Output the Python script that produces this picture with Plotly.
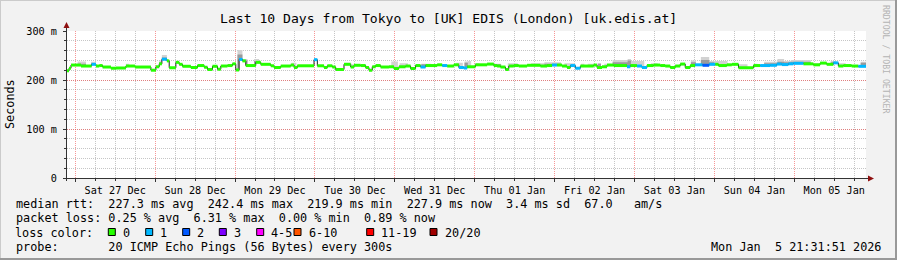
import pandas as pd
import plotly.graph_objects as go

# ---------------- data ----------------
START = pd.Timestamp("2025-12-26 21:31:51")
SPAN_H = 240  # 10 days

# median rtt steps: start hour (from START), value in ms, lost pings (of 20)
seg_h = [0.0, 0.6, 1.2, 4.2, 7.4, 8.7, 9.7, 10.7, 13.2, 14.7, 17.7, 20.4, 25.2, 26.7, 27.7, 28.5,
         30.0, 30.7, 32.7, 33.7, 34.7, 37.2, 39.2, 41.2, 42.2, 43.7, 45.2, 46.2, 48.2, 49.7, 50.7,
         51.7, 52.7, 53.7, 56.7, 58.2, 61.2, 62.2, 64.2, 67.2, 68.2, 69.2, 74.2, 75.2, 77.2, 78.2,
         79.7, 80.7, 83.2, 85.2, 86.2,
         88.2, 89.7, 90.7, 91.7, 92.7, 94.2, 96.7, 98.2, 99.7, 101.7, 103.2, 104.7, 106.2, 107.7,
         111.2, 112.7, 114.2, 116.2, 117.7, 119.2, 120.2, 122.7, 126.2, 128.2, 129.2, 130.2, 131.7,
         132.7, 134.2, 135.7, 138.2, 142.2, 144.2, 145.7, 147.2, 148.7, 150.2, 151.2, 152.7, 154.2,
         156.2, 158.2, 159.2, 160.7, 162.2, 164.2, 168.2, 169.2, 171.2, 172.7, 174.2, 176.2,
         178.2, 179.7, 181.2, 182.7, 184.2, 185.7, 187.2, 188.7, 190.9, 192.9, 194.7, 195.7, 198.2,
         199.7, 201.7, 206.2, 208.2, 211.2, 213.2, 214.7, 216.7, 218.2, 221.2, 224.2, 226.2, 228.2,
         230.2, 231.7, 233.2, 235.7, 237.7]
seg_ms = [219, 224, 230.5, 228.5, 232, 228.5, 229.5, 226.5, 224, 224.5, 228.5, 226.5, 220, 227, 233, 242.4,
          239, 225, 236, 232, 228, 225.5, 229.5, 226, 221.5, 228, 222, 228.5, 229.5, 233, 220.5,
          242, 239, 229.5, 236, 232, 229, 225.5, 228.5, 230.5, 225.5, 229, 241.5, 229, 225.5, 229,
          226.5, 221.5, 232, 226.5, 230,
          229.5, 225.5, 219.9, 227, 229.5, 226.5, 227, 223.5, 227, 228.5, 223.5, 229.5, 226.5, 229.5,
          231, 229.5, 228.5, 231, 225.5, 224.5, 227, 231, 232.5, 229.5, 228.5, 226.5, 221.5,
          228.5, 229.5, 228.5, 230, 228.5, 229.5, 230.5, 230.5, 228.5, 225.5, 229.5, 224, 228.5,
          228.5, 230.5, 225.5, 227, 230.5, 229.5, 227, 229.5, 228.5, 225.5, 229.5, 230.5,
          229.5, 228.5, 225.5, 228.5, 232.5, 225.5, 229.5, 231, 230, 232, 232, 229.5, 231,
          232, 225, 229.5, 229.5, 230, 232.5, 231.5, 233, 234, 233, 231, 234.5, 232,
          235, 228.5, 229.5, 228.5, 227.9]
seg_loss = [0, 0, 0, 0, 1, 0, 0, 0, 0, 0, 0, 0, 0, 0, 0, 1,
            0, 0, 0, 0, 0, 0, 0, 0, 0, 0, 0, 0, 0, 0, 0,
            1, 0, 0, 0, 0, 0, 0, 0, 0, 0, 0, 1, 0, 0, 0,
            0, 0, 0, 0, 0,
            0, 0, 0, 0, 0, 0, 0, 0, 0, 0, 0, 0, 1, 0,
            0, 1, 0, 0, 1, 1, 0, 0, 0, 0, 0, 0, 0,
            0, 0, 0, 0, 0, 0, 1, 0, 0, 0, 1, 1, 0,
            0, 0, 0, 0, 0, 0, 1, 0, 1, 1, 0, 0,
            0, 0, 0, 0, 0, 0, 0, 1, 2, 1, 0, 0, 0,
            0, 0, 0, 1, 1, 1, 1, 1, 1, 0, 0, 0, 0,
            1, 0, 0, 0, 1]

# smoke (ping spread): start hour, end hour, max ping ms, inner-band ms (0 = none)
smoke_h0 = [3.2, 7.2, 17.7, 27.7, 28.5, 39.7, 51.2, 52.7, 56.2, 67.4, 70.2, 83.4, 85.4, 97.4,
            99.9, 106.4, 107.9, 116.9, 119.4, 120.4, 122.4, 128.4, 132.4, 139.4, 143.4, 149.4,
            154.4, 156.4, 159.4, 161.4, 163.9, 168.4, 169.4, 175.4, 187.4, 190.4, 192.9, 194.4,
            201.4, 206.4, 209.4, 213.4, 215.4, 217.4, 224.4, 229.4, 231.4, 238.4]
smoke_h1 = [5.7, 8.7, 18.7, 28.5, 30.0, 41.2, 52.7, 54.2, 57.7, 68.9, 71.7, 85.4, 89.4, 99.4,
            102.4, 107.9, 109.4, 118.9, 120.4, 121.4, 123.9, 130.4, 135.4, 143.4, 148.4, 152.4,
            155.4, 158.4, 160.4, 163.4, 168.4, 169.4, 173.4, 177.4, 188.9, 192.9, 194.4, 198.4,
            204.4, 207.4, 213.4, 215.4, 217.4, 223.4, 225.9, 230.9, 233.9, 240.0]
smoke_top = [238, 237, 233, 240, 251, 230, 261, 243, 243, 235, 230, 235, 232, 238,
             234, 233, 233, 235, 238, 239, 234, 233, 234, 234, 236, 234,
             233, 233, 234, 233, 241, 243, 239, 234, 240, 247, 239, 239,
             232, 233, 237, 243, 239, 241, 234, 239, 234, 237]
smoke_core = [233, 234, 0, 236, 246, 0, 252, 240, 239, 0, 0, 0, 0, 0,
              0, 232, 0, 0, 235, 0, 0, 232, 0, 0, 233, 0,
              0, 0, 233, 0, 236, 240, 0, 0, 236, 241, 236, 0,
              0, 0, 234, 237, 236, 237, 0, 236, 0, 235]

loss_labels = ["0", "1", "2", "3", "4-5", "6-10", "11-19", "20/20"]
loss_colors = ["#26ff00", "#00b8ff", "#0059ff", "#7e00ff", "#ff00ff", "#ff5500", "#ff0000", "#a10000"]

y_tickvals = [0, 100, 200, 300]
y_ticktext = ["0", "100 m", "200 m", "300 m"]

title_text = "Last 10 Days from Tokyo to [UK] EDIS (London) [uk.edis.at]"
stat_rtt = "median rtt:  227.3 ms avg  242.4 ms max  219.9 ms min  227.9 ms now  3.4 ms sd  67.0   am/s"
stat_loss = "packet loss: 0.25 % avg  6.31 % max  0.00 % min  0.89 % now"
probe_text = "probe:       20 ICMP Echo Pings (56 Bytes) every 300s"
stamp_text = "Mon Jan  5 21:31:51 2026"

# ---------------- layout geometry (pixels) ----------------
W, H = 897, 260
PL, PR, PT, PB = 67, 866, 31, 178
FONT = "DejaVu Sans Mono"


def px(xp):
    return (xp - PL) / (PR - PL)


def py(yp):
    return (PB - yp) / (PB - PT)


def t(h):
    return START + pd.Timedelta(hours=h)


def nb(s):
    return s.replace(" ", "\u00a0")


END = t(SPAN_H)
seg_end = seg_h[1:] + [SPAN_H]

fig = go.Figure()

# smoke
for tops, color in ((smoke_top, "#d2d2d2"), (smoke_core, "#9a9a9a")):
    xs, ys = [], []
    for a, b, top in zip(smoke_h0, smoke_h1, tops):
        if not top:
            continue
        for s, e, m in zip(seg_h, seg_end, seg_ms):
            lo, hi = max(s, a), min(e, b)
            if hi <= lo or top <= m:
                continue
            xs += [t(lo), t(hi), t(hi), t(lo), t(lo), None]
            ys += [m, m, top, top, m, None]
    fig.add_trace(go.Scatter(x=xs, y=ys, mode="lines", fill="toself", fillcolor=color,
                             line=dict(width=0), hoverinfo="skip"))

# black median step line
fig.add_trace(go.Scatter(x=[t(h) for h in seg_h] + [END], y=seg_ms + [seg_ms[-1]],
                         mode="lines", line=dict(color="#202020", width=1, shape="hv"),
                         hoverinfo="skip"))

# loss coloured median band
for lvl, color in enumerate(loss_colors[:4]):
    xs, ys = [], []
    for s, e, m, l in zip(seg_h, seg_end, seg_ms, seg_loss):
        if l != lvl:
            continue
        xs += [t(s), t(e), None]
        ys += [m, m, None]
    if xs:
        fig.add_trace(go.Scatter(x=xs, y=ys, mode="lines",
                                 line=dict(color=color, width=3), hoverinfo="skip"))

shapes = []
# 3D border
shapes.append(dict(type="line", xref="paper", yref="paper", x0=px(0.5), x1=px(0.5), y0=py(0), y1=py(H),
                   line=dict(color="#cbcbcb", width=1)))
shapes.append(dict(type="line", xref="paper", yref="paper", x0=px(0), x1=px(W), y0=py(0.5), y1=py(0.5),
                   line=dict(color="#cbcbcb", width=1)))
shapes.append(dict(type="line", xref="paper", yref="paper", x0=px(W - 1), x1=px(W - 1), y0=py(0), y1=py(H),
                   line=dict(color="#999999", width=2)))
shapes.append(dict(type="line", xref="paper", yref="paper", x0=px(0), x1=px(W), y0=py(H - 1), y1=py(H - 1),
                   line=dict(color="#999999", width=2)))
# axes
shapes.append(dict(type="line", xref="paper", yref="paper", x0=px(PL - 0.5), x1=px(PL - 0.5),
                   y0=py(PB + 3), y1=py(25), line=dict(color="#333333", width=1)))
shapes.append(dict(type="line", xref="paper", yref="paper", x0=px(PL - 4), x1=px(869),
                   y0=py(PB + 0.5), y1=py(PB + 0.5), line=dict(color="#333333", width=1)))
# arrows
shapes.append(dict(type="path", xref="paper", yref="paper",
                   path=f"M {px(PL-3.5)} {py(28)} L {px(PL+2.5)} {py(28)} L {px(PL-0.5)} {py(22)} Z",
                   fillcolor="#8f1010", line=dict(width=0)))
shapes.append(dict(type="path", xref="paper", yref="paper",
                   path=f"M {px(868)} {py(PB-2.5)} L {px(868)} {py(PB+3.5)} L {px(874)} {py(PB+0.5)} Z",
                   fillcolor="#8f1010", line=dict(width=0)))

annotations = []


def ann(text, x, y, size, xanchor="left", color="#000000", angle=0, yanchor="middle"):
    annotations.append(dict(text=nb(text), x=px(x), y=py(y), xref="paper", yref="paper",
                            xanchor=xanchor, yanchor=yanchor, showarrow=False, textangle=angle,
                            borderpad=0, borderwidth=0,
                            font=dict(family=FONT, size=size, color=color)))


ann(title_text, 448.5, 18.5, 13.1, xanchor="center")
ann("Seconds", 10, 104, 11.8, xanchor="center", angle=-90)
ann("RRDTOOL / TOBI OETIKER", 886, 59, 8.2, xanchor="center", color="#b4b4b4", angle=90)
ann(stat_rtt, 15.5, 204, 11.8)
ann(stat_loss, 15.5, 218.3, 11.8)
ann("loss color:", 15.5, 232.5, 11.8)
ann(probe_text, 15.5, 246.7, 11.8)
ann(stamp_text, 881, 246.7, 11.8, xanchor="right")

box_x = [108.3, 145.7, 182.7, 219.3, 256.7, 294, 366.7, 430]
for bx, lab, col in zip(box_x, loss_labels, loss_colors):
    shapes.append(dict(type="rect", xref="paper", yref="paper", x0=px(bx), x1=px(bx + 7),
                       y0=py(235.5), y1=py(228.5), fillcolor=col, line=dict(color="#000000", width=1)))
    ann(lab, bx + 14.7, 232.5, 11.8)

grid_major = "rgba(240,80,80,0.6)"
grid_minor = "rgba(160,160,160,0.6)"

fig.update_layout(
    width=W, height=H, margin=dict(l=PL, r=W - PR, t=PT, b=H - PB, pad=0),
    paper_bgcolor="#f2f2f2", plot_bgcolor="#ffffff", showlegend=False,
    shapes=shapes, annotations=annotations,
    xaxis=dict(type="date", range=[START, END], tick0="2025-12-27", dtick=86400000,
               ticklabelmode="period", tickformat="%a %d %b",
               showgrid=True, gridcolor=grid_major, griddash="1px,1px", gridwidth=1,
               ticks="outside", ticklen=3, tickcolor="#333333",
               tickfont=dict(family=FONT, size=10.2, color="#000000"),
               minor=dict(dtick=6 * 3600000, tick0="2025-12-27", showgrid=True,
                          gridcolor=grid_minor, griddash="1px,1px", ticks="outside",
                          ticklen=2, tickcolor="#333333"),
               showline=False, zeroline=False, fixedrange=True),
    yaxis=dict(range=[0, 300], tickvals=y_tickvals, ticktext=y_ticktext,
               showgrid=True, gridcolor=grid_major, griddash="1px,1px",
               ticks="outside", ticklen=3, tickcolor="#333333", ticklabelstandoff=4,
               tickfont=dict(family=FONT, size=10.2, color="#000000"),
               minor=dict(dtick=20, showgrid=True, gridcolor=grid_minor, griddash="1px,1px",
                          ticks="outside", ticklen=2, tickcolor="#333333"),
               showline=False, zeroline=False, fixedrange=True),
)

fig.write_html("out.html")
